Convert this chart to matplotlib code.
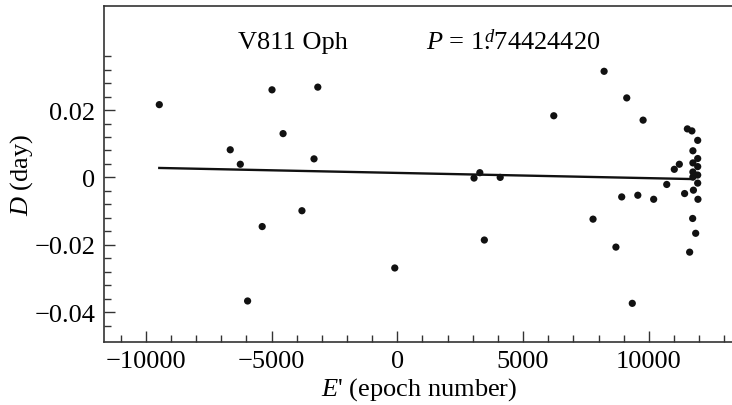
import matplotlib
matplotlib.use('Agg')
import matplotlib.pyplot as plt
import numpy as np
from matplotlib.ticker import MultipleLocator, FixedLocator, FuncFormatter

# -------------------------
# DATA
# -------------------------

epoch = [
    -9460, -6640, -6240, -4980, -4540, -3160, -3310,
    -5950, -5370, -3790, -100,
    3050, 3280, 4090, 6220, 8220, 9120, 9770,
    11530, 11710, 11940, 11750, 11940, 11210, 11010,
    11750, 11940, 11750, 11940, 11750, 11940, 10710,
    11420, 11770, 8920, 9560, 10190, 11950,
    7780, 3460, 11740, 11860, 8690, 11620, 9340,
]

residual = [
    0.0216, 0.0082, 0.0039, 0.0260, 0.0130, 0.0268, 0.0055,
    -0.0367, -0.0146, -0.0099, -0.0269,
    -0.0002, 0.0014, 0.0000, 0.0183, 0.0315, 0.0236, 0.0170,
    0.0144, 0.0138, 0.0110, 0.0079, 0.0056, 0.0039, 0.0024,
    0.0043, 0.0032, 0.0016, 0.0007, 0.0001, -0.0017, -0.0021,
    -0.0048, -0.0038, -0.0058, -0.0053, -0.0065, -0.0065,
    -0.0124, -0.0186, -0.0122, -0.0166, -0.0207, -0.0222, -0.0374,
]

# linear fit, end points
fit_epoch = [-9460, 11750]
fit_residual = [0.0028, -0.0005]

x_ticks = [-10000, -5000, 0, 5000, 10000]
y_ticks = [-0.04, -0.02, 0, 0.02]

# -------------------------
# FONTS
# -------------------------

plt.rcParams['font.family'] = ['Liberation Serif', 'DejaVu Serif']
plt.rcParams['mathtext.fontset'] = 'custom'
plt.rcParams['mathtext.rm'] = 'Liberation Serif'
plt.rcParams['mathtext.it'] = 'Liberation Serif:italic'
plt.rcParams['mathtext.bf'] = 'Liberation Serif:bold'

FS = 19


def fmt_y(v, pos):
    if abs(v) < 1e-9:
        return '0'
    return f'{v:.2f}'.replace('-', '\u2212')


def fmt_x(v, pos):
    return f'{int(round(v))}'.replace('-', '\u2212')


fig = plt.figure(figsize=(7.32, 4.06), dpi=100)
ax = fig.add_axes([0.142, 0.155, 0.862, 0.827])

# points
ax.scatter(epoch, residual, s=27, color='#111111', edgecolors='none', zorder=3)

# fit line
ax.plot(fit_epoch, fit_residual, color='#111111', linewidth=1.7, zorder=2)

# -------------------------
# AXES
# -------------------------

ax.set_xlim(-11660, 13420)
ax.set_ylim(-0.0489, 0.0508)

ax.set_xticks(x_ticks)
ax.set_yticks(y_ticks)
ax.xaxis.set_minor_locator(MultipleLocator(1000))
ax.yaxis.set_minor_locator(FixedLocator(np.arange(-0.044, 0.037, 0.004)))
ax.xaxis.set_major_formatter(FuncFormatter(fmt_x))
ax.yaxis.set_major_formatter(FuncFormatter(fmt_y))

ax.tick_params(which='both', direction='in', top=False, right=False,
               labelsize=FS, width=1.0, color='#333333')
ax.tick_params(which='major', length=8, pad=6)
ax.tick_params(which='minor', length=5)

for sp in ax.spines.values():
    sp.set_linewidth(1.2)
    sp.set_color('#333333')
ax.spines['right'].set_visible(False)

ax.set_xlabel("$E$' (epoch number)", fontsize=FS, labelpad=2)
ax.set_ylabel('$D$ (day)', fontsize=FS, labelpad=0)

# annotations
ax.text(0.30, 0.893, 'V811 Oph', transform=ax.transAxes,
        fontsize=FS, ha='center', va='center')
ax.text(0.511, 0.893, r'$P$ = 1$\overset{d}{.}$74424420', transform=ax.transAxes,
        fontsize=FS, ha='left', va='center')

fig.savefig('out.png', dpi=100)
